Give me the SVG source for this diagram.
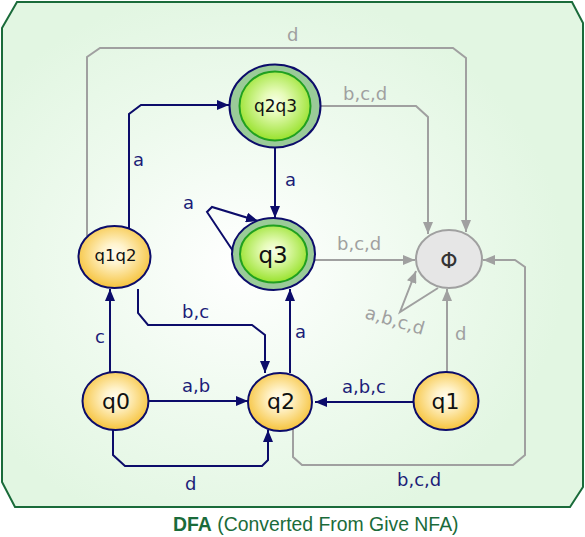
<svg xmlns="http://www.w3.org/2000/svg" width="585" height="537" viewBox="0 0 585 537">
<defs>
<radialGradient id="bg" cx="0.42" cy="0.52" r="0.55">
<stop offset="0" stop-color="#ffffff"/>
<stop offset="0.55" stop-color="#eefaee"/>
<stop offset="1" stop-color="#e2f6e2"/>
</radialGradient>
<radialGradient id="yel" cx="0.5" cy="0.45" r="0.55">
<stop offset="0" stop-color="#fffdf2"/>
<stop offset="0.3" stop-color="#fff3cc"/>
<stop offset="1" stop-color="#f6c33c"/>
</radialGradient>
<radialGradient id="grn" cx="0.5" cy="0.45" r="0.55">
<stop offset="0" stop-color="#f8ffe8"/>
<stop offset="0.3" stop-color="#e6fbb8"/>
<stop offset="1" stop-color="#98e22c"/>
</radialGradient>
<marker id="an" markerUnits="userSpaceOnUse" markerWidth="12" markerHeight="10" refX="12" refY="5" orient="auto">
<path d="M0,0 L12,5 L0,10 z" fill="#0c0c6a"/>
</marker>
<marker id="ag" markerUnits="userSpaceOnUse" markerWidth="12" markerHeight="10" refX="12" refY="5" orient="auto">
<path d="M0,0 L12,5 L0,10 z" fill="#a0a0a0"/>
</marker>
</defs>
<style>
.e{fill:none;stroke:#0c0c6a;stroke-width:2;marker-end:url(#an)}
.g{fill:none;stroke:#a0a0a0;stroke-width:2;marker-end:url(#ag)}
.ln{font-family:"DejaVu Sans",Verdana,sans-serif;font-size:18px;fill:#1c1c78}
.lg{font-family:"DejaVu Sans",Verdana,sans-serif;font-size:18px;fill:#a0a0a0}
.nt{font-family:"DejaVu Sans",Verdana,sans-serif;fill:#111111;text-anchor:middle}
.yn{fill:url(#yel);stroke:#0c0c6a;stroke-width:2}
.ring{fill:#9acb98;stroke:#0c0c6a;stroke-width:2}
.inner{fill:url(#grn);stroke:#20a020;stroke-width:2}
</style>
<polygon points="17,2 572,2 583,23 583,487 570,507 15,507 2,482 2,28" fill="url(#bg)" stroke="#1a6b3a" stroke-width="2"/>

<g id="connectors">
<path class="g" d="M87,236 V57 L100,48 H453 L466,58 V232"/>
<path class="g" d="M320,106 H416 L428,117 V234"/>
<path class="g" d="M315,260 H415"/>
<path class="g" d="M438,288 L400,312 L416,271"/>
<path class="g" d="M447,372 V289"/>
<path class="g" d="M293,429 V457 L302,465 H513 L525,455 V267 L515,260 H483"/>
<path class="e" d="M129,229 V114 L141,105 H229"/>
<path class="e" d="M275,148 V218"/>
<path class="e" d="M233,251 L207,212 L212,207 L258,221"/>
<path class="e" d="M110,372 V289"/>
<path class="e" d="M138,289 V313 L148,325 H252 L265,335 V373"/>
<path class="e" d="M149,401 H248"/>
<path class="e" d="M113,430 V455 L125,466 H262 L268,460 V430"/>
<path class="e" d="M290,373 V289"/>
<path class="e" d="M413,402 H315"/>
<text class="ln" x="133" y="166">a</text>
<text class="ln" x="285" y="186">a</text>
<text class="ln" x="183" y="209">a</text>
<text class="lg" x="287" y="41">d</text>
<text class="lg" x="343" y="100">b,c,d</text>
<text class="lg" x="337" y="250">b,c,d</text>
<text class="lg" transform="translate(364,318) rotate(16)">a,b,c,d</text>
<text class="lg" x="455" y="340">d</text>
<text class="ln" x="397" y="486">b,c,d</text>
<text class="ln" x="95" y="343">c</text>
<text class="ln" x="182" y="318">b,c</text>
<text class="ln" x="182" y="392">a,b</text>
<text class="ln" x="185" y="490">d</text>
<text class="ln" x="295" y="338">a</text>
<text class="ln" x="342" y="393">a,b,c</text>
</g>

<g id="q2q3">
<ellipse class="ring" cx="275" cy="106" rx="45.5" ry="41.5"/>
<ellipse class="inner" cx="275" cy="106" rx="35.5" ry="34.5"/>
<text class="nt" x="275.5" y="112" font-size="17">q2q3</text>
</g>
<g id="q3">
<ellipse class="ring" cx="273.5" cy="254" rx="41.5" ry="36"/>
<ellipse class="inner" cx="273.5" cy="254" rx="33.5" ry="28.5"/>
<text class="nt" x="273" y="263" font-size="23">q3</text>
</g>
<g id="q1q2">
<ellipse class="yn" cx="114.5" cy="257" rx="36" ry="31"/>
<text class="nt" x="115.5" y="261" font-size="16.5">q1q2</text>
</g>
<g id="q0">
<ellipse class="yn" cx="115.5" cy="401" rx="33" ry="29"/>
<text class="nt" x="116" y="408.5" font-size="22">q0</text>
</g>
<g id="q2">
<ellipse class="yn" cx="280" cy="402" rx="32" ry="29"/>
<text class="nt" x="281" y="409" font-size="22">q2</text>
</g>
<g id="q1">
<ellipse class="yn" cx="446" cy="401" rx="32.5" ry="29"/>
<text class="nt" x="445.5" y="408.5" font-size="22">q1</text>
</g>
<g id="phi">
<ellipse cx="449" cy="259" rx="33" ry="29" fill="#e6e6e6" stroke="#a0a0a0" stroke-width="2"/>
<text class="nt" x="449" y="268" font-size="22" style="fill:#333333">Φ</text>
</g>

<text x="173" y="531" font-family="'Liberation Sans',Arial,sans-serif" font-size="19.4" fill="#1a6b3a"><tspan font-weight="bold">DFA</tspan> (Converted From Give NFA)</text>
</svg>
